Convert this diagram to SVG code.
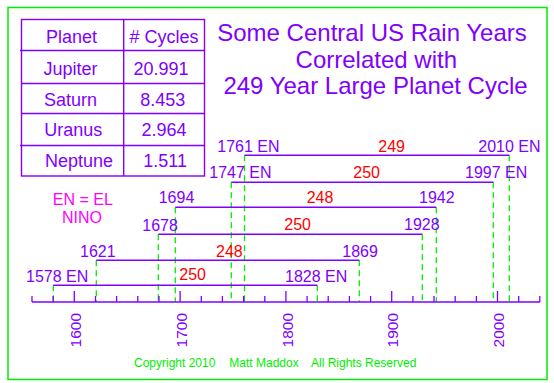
<svg xmlns="http://www.w3.org/2000/svg" width="554" height="383" viewBox="0 0 554 383">
<style>
text{font-family:"Liberation Sans",Arial,sans-serif}
.p{fill:#8000ff}
.r{fill:#ff0000}
.t{font-size:18px;fill:#8000ff}
.lbl{font-size:16px}
.bar{stroke:#8000ff;stroke-width:1.4;fill:none}
.dash{stroke:#00ee00;stroke-width:1.3;stroke-dasharray:6 4;fill:none}
.tick{stroke:#8000ff;stroke-width:1.3}
.yr{font-size:15.5px;fill:#8000ff;text-anchor:end}
</style>
<rect x="0" y="0" width="554" height="383" fill="#ffffff"/>
<rect id="frame" x="8" y="7.5" width="539" height="372" fill="none" stroke="#00ee00" stroke-width="1.5"/>

<g id="table">
  <rect x="21.5" y="19.5" width="183" height="156.5" fill="none" stroke="#8000ff" stroke-width="1.4"/>
  <line x1="123.7" y1="19.5" x2="123.7" y2="176" stroke="#8000ff" stroke-width="1.4"/>
  <line x1="20" y1="50.5" x2="204.5" y2="50.5" stroke="#8000ff" stroke-width="1.4"/>
  <line x1="21.5" y1="83.5" x2="204.5" y2="83.5" stroke="#8000ff" stroke-width="1.4"/>
  <line x1="21.5" y1="113.5" x2="204.5" y2="113.5" stroke="#8000ff" stroke-width="1.4"/>
  <line x1="20" y1="145.5" x2="204.5" y2="145.5" stroke="#8000ff" stroke-width="1.4"/>
  <text class="t" x="46" y="43.3">Planet</text>
  <text class="t" x="129.5" y="43.3"># Cycles</text>
  <text class="t" x="43.5" y="75">Jupiter</text>
  <text class="t" x="133.5" y="75">20.991</text>
  <text class="t" x="44" y="105.7">Saturn</text>
  <text class="t" x="140.3" y="105.7">8.453</text>
  <text class="t" x="44.3" y="135.7">Uranus</text>
  <text class="t" x="141.5" y="135.7">2.964</text>
  <text class="t" x="45" y="166.7">Neptune</text>
  <text class="t" x="143.3" y="166.7">1.511</text>
</g>

<g id="title" font-size="24" fill="#8000ff" text-anchor="middle">
  <text x="372" y="40.7">Some Central US Rain Years</text>
  <text x="376.3" y="67.5">Correlated with</text>
  <text x="375.5" y="94.3">249 Year Large Planet Cycle</text>
</g>

<g id="legend" font-size="16" fill="#ff00ff" text-anchor="middle">
  <text x="82.8" y="205.3">EN = EL</text>
  <text x="82" y="222.7">NINO</text>
</g>

<g id="connectors">
  <path class="dash" d="M53.3 285.3V302M317.3 285.3V302"/>
  <path class="dash" d="M96.3 260.3V302M359.3 260.3V302"/>
  <path class="dash" d="M158.3 234.3V302M422.3 234.3V302"/>
  <path class="dash" d="M175.3 207.3V302M436.3 207.3V302"/>
  <path class="dash" d="M231.3 182.3V302M493.3 182.3V302"/>
  <path class="dash" d="M244.5 155.3V302M509.3 155.3V302"/>
</g>

<g id="bar-1761">
  <line class="bar" x1="244.5" y1="155.3" x2="509.3" y2="155.3"/>
  <text class="p lbl" x="217.3" y="152.3">1761 EN</text>
  <text class="r lbl" x="378.3" y="151.7">249</text>
  <text class="p lbl" x="478.3" y="151.7">2010 EN</text>
</g>
<g id="bar-1747">
  <line class="bar" x1="231.3" y1="182.3" x2="493.3" y2="182.3"/>
  <text class="p lbl" x="209.3" y="178.3">1747 EN</text>
  <text class="r lbl" x="353.3" y="177.7">250</text>
  <text class="p lbl" x="465" y="177.7">1997 EN</text>
</g>
<g id="bar-1694">
  <line class="bar" x1="175.3" y1="207.3" x2="436.3" y2="207.3"/>
  <text class="p lbl" x="158.7" y="202.7">1694</text>
  <text class="r lbl" x="306.7" y="202.7">248</text>
  <text class="p lbl" x="419" y="202.7">1942</text>
</g>
<g id="bar-1678">
  <line class="bar" x1="158.3" y1="234.3" x2="422.3" y2="234.3"/>
  <text class="p lbl" x="142.3" y="230.7">1678</text>
  <text class="r lbl" x="284.3" y="230.3">250</text>
  <text class="p lbl" x="404" y="230.3">1928</text>
</g>
<g id="bar-1621">
  <line class="bar" x1="96.3" y1="260.3" x2="359.3" y2="260.3"/>
  <text class="p lbl" x="80" y="256.7">1621</text>
  <text class="r lbl" x="216" y="256.7">248</text>
  <text class="p lbl" x="342.3" y="256.7">1869</text>
</g>
<g id="bar-1578">
  <line class="bar" x1="53.3" y1="285.3" x2="317.3" y2="285.3"/>
  <text class="p lbl" x="26" y="281.7">1578 EN</text>
  <text class="r lbl" x="179.3" y="280.3">250</text>
  <text class="p lbl" x="285" y="281.7">1828 EN</text>
</g>

<g id="axis">
  <line x1="32" y1="302" x2="540" y2="302" stroke="#8000ff" stroke-width="1.5"/>
  <path class="tick" d="M32 296V302M53.2 296V302M74.3 291V302M95.5 296V302M116.6 296V302M137.8 296V302M159 296V302M180.1 291V302M201.3 296V302M222.4 296V302M243.6 296V302M264.8 296V302M285.9 291V302M307.1 296V302M328.2 296V302M349.4 296V302M370.6 296V302M391.7 291V302M412.9 296V302M434 296V302M455.2 296V302M476.4 296V302M497.5 291V302M518.7 296V302M539.8 296V302"/>
  <text class="yr" transform="translate(81,313) rotate(-90)">1600</text>
  <text class="yr" transform="translate(186.8,313) rotate(-90)">1700</text>
  <text class="yr" transform="translate(292.6,313) rotate(-90)">1800</text>
  <text class="yr" transform="translate(398.4,313) rotate(-90)">1900</text>
  <text class="yr" transform="translate(504.2,313) rotate(-90)">2000</text>
</g>

<g id="copyright" font-size="12" fill="#00ee00">
  <text x="134" y="367.3">Copyright 2010</text>
  <text x="229.3" y="367.3">Matt Maddox</text>
  <text x="311" y="367.3">All Rights Reserved</text>
</g>
</svg>
